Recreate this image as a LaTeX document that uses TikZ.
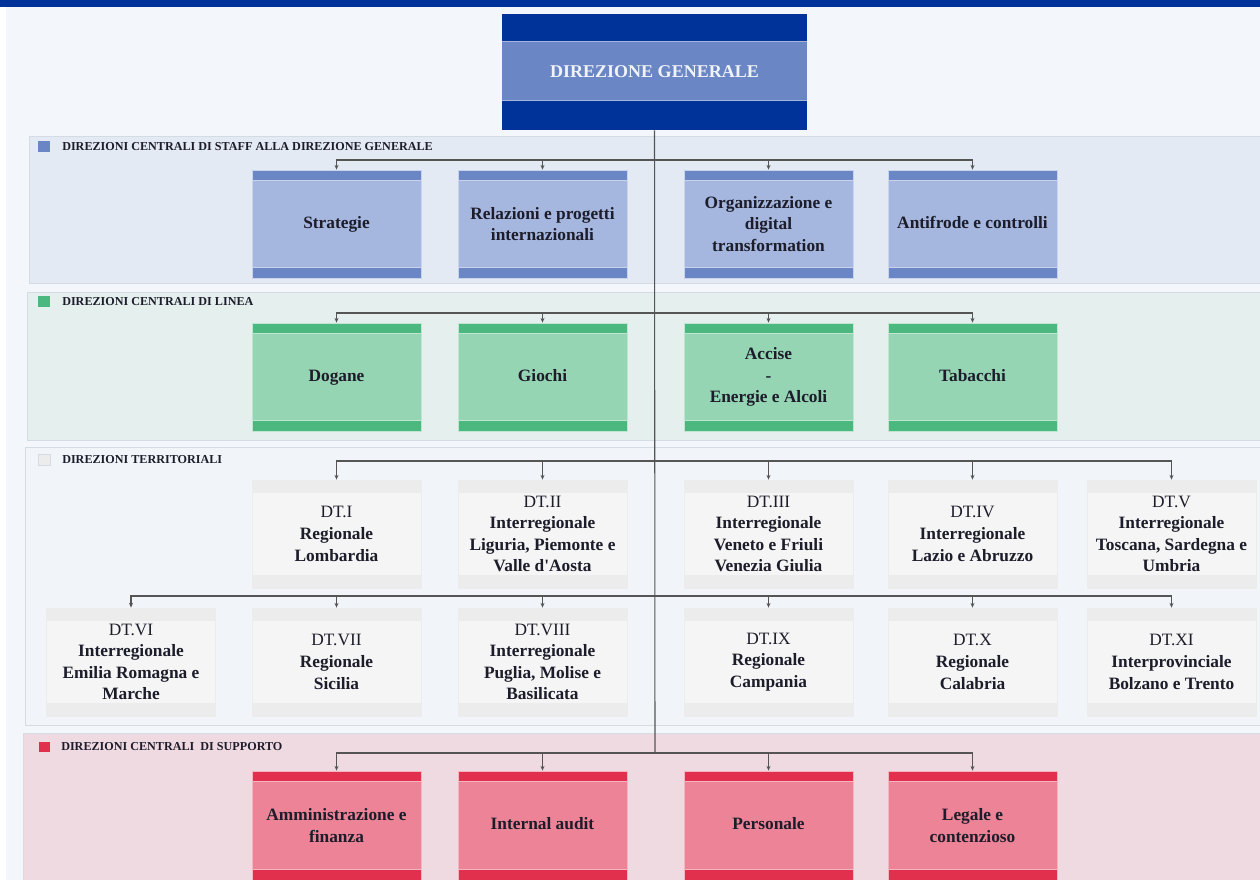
\documentclass[tikz,border=0pt]{standalone}
\usepackage{fontspec}
\setmainfont{Liberation Serif}
\usetikzlibrary{arrows.meta,calc}
\definecolor{dgdark}{HTML}{003399}
\definecolor{dgmid}{HTML}{6A86C4}
\definecolor{pagebg}{HTML}{F3F7FB}
\definecolor{secedge}{HTML}{D5DBE3}
\definecolor{staffbg}{HTML}{E3EAF4}
\definecolor{linebg}{HTML}{E5F0EE}
\definecolor{terrbg}{HTML}{F1F5F9}
\definecolor{suppbg}{HTML}{F0DAE1}
\definecolor{staffin}{HTML}{A5B7DF}
\definecolor{staffband}{HTML}{6A86C4}
\definecolor{greenin}{HTML}{96D5B4}
\definecolor{greenband}{HTML}{4AB87F}
\definecolor{terrin}{HTML}{F5F5F5}
\definecolor{terrband}{HTML}{ECECEC}
\definecolor{suppin}{HTML}{EC8396}
\definecolor{suppband}{HTML}{E0304E}
\definecolor{txt}{HTML}{1C1C2A}
\definecolor{conncol}{HTML}{555555}
\tikzset{
  unitbox/.style n args={4}{rectangle, inner sep=0pt, minimum width=126.75pt,
    minimum height=81pt, align=center, text=txt, fill=#1, draw=#3, line width=0.5pt,
    font=\bfseries\fontsize{13}{16.2}\selectfont,
    path picture={
      \fill[#2] (path picture bounding box.north west) rectangle ([yshift=-#4]path picture bounding box.north east);
      \fill[#2] (path picture bounding box.south west) rectangle ([yshift=#4+0.75pt]path picture bounding box.south east);
      \draw[#3, line width=0.6pt] ([yshift=-#4]path picture bounding box.north west) -- ([yshift=-#4]path picture bounding box.north east);
      \draw[#3, line width=0.6pt] ([yshift=#4+0.75pt]path picture bounding box.south west) -- ([yshift=#4+0.75pt]path picture bounding box.south east);
    }},
  staffbox/.style={unitbox={staffin}{staffband}{staffin!60!white}{7.5pt}},
  greenbox/.style={unitbox={greenin}{greenband}{greenin!60!white}{7.5pt}},
  suppbox/.style={unitbox={suppin}{suppband}{suppin!60!white}{7.5pt}},
  terrbox/.style={unitbox={terrin}{terrband}{terrband}{9pt}, font=\fontsize{13}{16.2}\selectfont},
  section/.style={draw=secedge, line width=0.6pt},
  seclabel/.style={anchor=west, inner sep=0pt, text=txt, font=\bfseries\fontsize{9.1}{10}\selectfont},
  trunk/.style={draw=conncol, line width=0.8pt},
  arr/.style={draw=conncol, line width=0.8pt, -{Stealth[length=3.6pt,width=3pt]}},
}
\begin{document}
\begin{tikzpicture}[x=0.75pt,y=-0.75pt]
\useasboundingbox (0,0) rectangle (1260,880);
\fill[white] (0,0) rectangle (1260,880);
\fill[pagebg] (6,7) rectangle (1260,880);
\fill[dgdark] (0,0) rectangle (1260,7);

% sections
\filldraw[section, fill=staffbg] (29,136) rectangle (1262,283);
\filldraw[section, fill=linebg] (27,292) rectangle (1262,440);
\filldraw[section, fill=terrbg] (25,447) rectangle (1262,725);
\filldraw[section, fill=suppbg] (23,733) rectangle (1262,884);

% section labels
\fill[staffband] (38,141) rectangle (50,152);
\node[seclabel] (lab1) at (62,146.5) {DIREZIONI CENTRALI DI STAFF ALLA DIREZIONE GENERALE};
\fill[greenband] (38,296) rectangle (50,307);
\node[seclabel] (lab2) at (62,301.5) {DIREZIONI CENTRALI DI LINEA};
\filldraw[fill=terrband, draw=secedge, line width=0.5pt] (38,454) rectangle (50,465);
\node[seclabel] (lab3) at (62,459.5) {DIREZIONI TERRITORIALI};
\fill[suppband] (39,742) rectangle (50,752);
\node[seclabel] (lab4) at (61,746.5) {DIREZIONI CENTRALI\ \ DI SUPPORTO};

% Direzione generale
\node[rectangle, inner sep=0pt, minimum width=228.75pt, minimum height=87pt, fill=dgmid,
  text=white!90!dgmid, font=\bfseries\fontsize{13.5}{16}\selectfont,
  path picture={
    \fill[dgdark] (path picture bounding box.north west) rectangle ([yshift=-20.25pt]path picture bounding box.north east);
    \fill[dgdark] (path picture bounding box.south west) rectangle ([yshift=22.5pt]path picture bounding box.south east);
    \draw[dgmid!60!white, line width=0.6pt] ([yshift=-20.25pt]path picture bounding box.north west) -- ([yshift=-20.25pt]path picture bounding box.north east);
    \draw[dgmid!60!white, line width=0.6pt] ([yshift=22.5pt]path picture bounding box.south west) -- ([yshift=22.5pt]path picture bounding box.south east);
  }] (dg) at (654.5,72) {DIREZIONE GENERALE};

% staff
\node[staffbox] (s1) at (336.5,224) {\strut Strategie};
\node[staffbox] (s2) at (542.5,224) {Relazioni e progetti\\internazionali};
\node[staffbox] (s3) at (768.5,224) {Organizzazione e\\digital\\transformation};
\node[staffbox] (s4) at (972.5,224) {\strut Antifrode e controlli};

% linea
\node[greenbox] (g1) at (336.5,377) {\strut Dogane};
\node[greenbox] (g2) at (542.5,377) {\strut Giochi};
\node[greenbox] (g3) at (768.5,377) {Accise\\-\\Energie e Alcoli};
\node[greenbox] (g4) at (972.5,377) {\strut Tabacchi};

% territoriali
\node[terrbox] (t1) at (336.5,534) {DT.I\\\textbf{Regionale}\\\textbf{Lombardia}};
\node[terrbox] (t2) at (542.5,534) {DT.II\\\textbf{Interregionale}\\\textbf{Liguria, Piemonte e}\\\textbf{Valle d\textquotesingle Aosta}};
\node[terrbox] (t3) at (768.5,534) {DT.III\\\textbf{Interregionale}\\\textbf{Veneto e Friuli}\\\textbf{Venezia Giulia}};
\node[terrbox] (t4) at (972.5,534) {DT.IV\\\textbf{Interregionale}\\\textbf{Lazio e Abruzzo}};
\node[terrbox] (t5) at (1171.5,534) {DT.V\\\textbf{Interregionale}\\\textbf{Toscana, Sardegna e}\\\textbf{Umbria}};
\node[terrbox] (t6) at (131,662) {DT.VI\\\textbf{Interregionale}\\\textbf{Emilia Romagna e}\\\textbf{Marche}};
\node[terrbox] (t7) at (336.5,662) {DT.VII\\\textbf{Regionale}\\\textbf{Sicilia}};
\node[terrbox] (t8) at (542.5,662) {DT.VIII\\\textbf{Interregionale}\\\textbf{Puglia, Molise e}\\\textbf{Basilicata}};
\node[terrbox] (t9) at (768.5,662) {DT.IX\\\textbf{Regionale}\\\textbf{Campania}};
\node[terrbox] (t10) at (972.5,662) {DT.X\\\textbf{Regionale}\\\textbf{Calabria}};
\node[terrbox] (t11) at (1171.5,662) {DT.XI\\\textbf{Interprovinciale}\\\textbf{Bolzano e Trento}};

% supporto
\node[suppbox, minimum height=81.75pt] (p1) at (336.5,825.5) {Amministrazione e\\finanza};
\node[suppbox, minimum height=81.75pt] (p2) at (542.5,825.5) {\strut Internal audit};
\node[suppbox, minimum height=81.75pt] (p3) at (768.5,825.5) {\strut Personale};
\node[suppbox, minimum height=81.75pt] (p4) at (972.5,825.5) {Legale e\\contenzioso};

% bus junctions
\coordinate (j1) at (655,160);
\coordinate (j2) at (655,313);
\coordinate (j3) at (655,461);
\coordinate (j4) at (655,596);
\coordinate (j5) at (655,753);

% connectors
\draw[trunk] (dg.south) -- (j5);
\foreach \n in {s1,s2,s3,s4} \draw[arr] (j1) -| (\n.north);
\foreach \n in {g1,g2,g3,g4} \draw[arr] (j2) -| (\n.north);
\foreach \n in {t1,t2,t3,t4,t5} \draw[arr] (j3) -| (\n.north);
\foreach \n in {t6,t7,t8,t9,t10,t11} \draw[arr] (j4) -| (\n.north);
\foreach \n in {p1,p2,p3,p4} \draw[arr] (j5) -| (\n.north);
\end{tikzpicture}
\end{document}
